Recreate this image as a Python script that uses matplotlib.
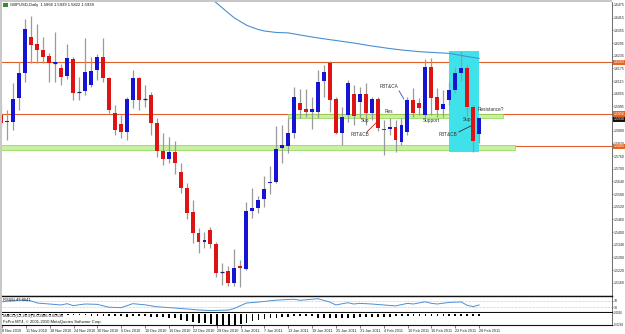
import matplotlib
matplotlib.use('Agg')
import matplotlib.pyplot as plt
from matplotlib.patches import Rectangle
from matplotlib.transforms import blended_transform_factory

plt.rcParams['font.family'] = ['Liberation Sans', 'DejaVu Sans']

W, H = 625, 334

# ---------------- data ----------------
opens = [1.5954, 1.5920, 1.5922, 1.6033, 1.6152, 1.6325, 1.6289, 1.6262, 1.6234, 1.6200,
         1.6175, 1.6139, 1.6218, 1.6064, 1.6069, 1.6096, 1.6167, 1.6227, 1.6128, 1.5964,
         1.5912, 1.5872, 1.6025, 1.6128, 1.6028, 1.6049, 1.5917, 1.5785, 1.5744, 1.5780,
         1.5683, 1.5607, 1.5494, 1.5394, 1.5355, 1.5410, 1.5343, 1.5211, 1.5216, 1.5157,
         1.5241, 1.5224, 1.5500, 1.5512, 1.5555, 1.5631, 1.5635, 1.5796, 1.5809, 1.5870,
         1.6010, 1.5984, 1.5970, 1.5970, 1.6115, 1.6199, 1.6029, 1.5868, 1.5954, 1.6054,
         1.6017, 1.6054, 1.5962, 1.6029, 1.5886, 1.5890, 1.5896, 1.5828, 1.5875, 1.6025,
         1.6012, 1.5954, 1.6180, 1.6041, 1.5981, 1.6025, 1.6073, 1.6152, 1.6175, 1.5993,
         1.5866]
highs = [1.6006, 1.5978, 1.6106, 1.6205, 1.6407, 1.6423, 1.6385, 1.6322, 1.6246, 1.6349,
         1.6196, 1.6290, 1.6230, 1.6133, 1.6320, 1.6230, 1.6243, 1.6320, 1.6136, 1.6002,
         1.5954, 1.6041, 1.6167, 1.6136, 1.6096, 1.6065, 1.5940, 1.5867, 1.5848, 1.5832,
         1.5725, 1.5634, 1.5552, 1.5418, 1.5400, 1.5422, 1.5354, 1.5252, 1.5239, 1.5318,
         1.5268, 1.5544, 1.5607, 1.5571, 1.5665, 1.5713, 1.5903, 1.5907, 1.5940, 1.6085,
         1.6076, 1.6076, 1.6041, 1.6167, 1.6191, 1.6210, 1.6041, 1.5994, 1.6120, 1.6096,
         1.6085, 1.6104, 1.6041, 1.6038, 1.5930, 1.5940, 1.5930, 1.5940, 1.6041, 1.6081,
         1.6034, 1.6218, 1.6223, 1.6081, 1.6073, 1.6112, 1.6183, 1.6257, 1.6191, 1.6002,
         1.5939]
lows = [1.5893, 1.5836, 1.5883, 1.5978, 1.6112, 1.6199, 1.6200, 1.6199, 1.6112, 1.6112,
        1.6096, 1.6125, 1.6025, 1.6025, 1.6049, 1.6085, 1.6120, 1.6112, 1.5964, 1.5860,
        1.5846, 1.5836, 1.5987, 1.5978, 1.5993, 1.5860, 1.5757, 1.5717, 1.5725, 1.5673,
        1.5586, 1.5460, 1.5349, 1.5299, 1.5325, 1.5323, 1.5189, 1.5149, 1.5145, 1.5145,
        1.5141, 1.5220, 1.5465, 1.5492, 1.5520, 1.5580, 1.5634, 1.5728, 1.5776, 1.5844,
        1.5940, 1.5946, 1.5890, 1.5940, 1.6041, 1.5970, 1.5864, 1.5812, 1.5921, 1.5907,
        1.5938, 1.5907, 1.5930, 1.5879, 1.5765, 1.5860, 1.5780, 1.5812, 1.5860, 1.5946,
        1.5954, 1.5946, 1.5954, 1.5946, 1.5946, 1.6002, 1.6057, 1.6115, 1.5949, 1.5780,
        1.5822]
closes = [1.5916, 1.5925, 1.6032, 1.6154, 1.6361, 1.6286, 1.6262, 1.6230, 1.6199, 1.6203,
          1.6135, 1.6223, 1.6060, 1.6065, 1.6159, 1.6164, 1.6227, 1.6128, 1.5978, 1.5883,
          1.5872, 1.6029, 1.6128, 1.6025, 1.6029, 1.5916, 1.5785, 1.5744, 1.5777, 1.5725,
          1.5610, 1.5492, 1.5394, 1.5354, 1.5360, 1.5343, 1.5208, 1.5213, 1.5157, 1.5228,
          1.5228, 1.5501, 1.5515, 1.5552, 1.5604, 1.5638, 1.5792, 1.5812, 1.5870, 1.6041,
          1.5978, 1.5970, 1.5984, 1.6112, 1.6159, 1.6025, 1.5868, 1.5946, 1.6104, 1.5949,
          1.6054, 1.5962, 1.6029, 1.5891, 1.5881, 1.5895, 1.5836, 1.5907, 1.6025, 1.5965,
          1.5989, 1.6183, 1.6036, 1.5978, 1.6006, 1.6073, 1.6154, 1.6175, 1.5993, 1.5832,
          1.5938]

ma_idx = [34, 35, 36, 37, 38, 39, 40, 41, 42, 43, 44, 46, 48, 50, 53, 56, 59, 62, 65, 67,
          70, 73, 75, 78, 80]
ma_val = [1.6527, 1.6508, 1.6485, 1.6461, 1.6437, 1.6414, 1.6397, 1.6380, 1.6369, 1.6359,
          1.6352, 1.6345, 1.6343, 1.6333, 1.6319, 1.6307, 1.6295, 1.6281, 1.6269, 1.6262,
          1.6254, 1.6249, 1.6246, 1.6231, 1.6222]

rsi_idx = [0, 3, 5, 6, 10, 11, 12, 14, 16, 18, 20, 22, 24, 26, 29, 31, 33, 35, 38, 39,
           41, 43, 46, 49, 50, 53, 55, 56, 58, 59, 60, 62, 64, 66, 68, 69, 71, 72, 73, 75,
           77, 78, 79, 80]
rsi_val = [64, 75, 69, 56, 44, 52, 40, 50, 48, 30, 27, 52, 45, 33, 25, 19, 13, 9, 12, 22,
           56, 62, 74, 80, 73, 83, 62, 44, 58, 50, 54, 50, 44, 38, 54, 50, 64, 54, 50, 60,
           63, 42, 34, 44]

macd_hist = [-0.0015, -0.0015, -0.0012, -0.0010, -0.0010, -0.0010, -0.0012, -0.0015, -0.0018, -0.0020,
             -0.0022, -0.0025, -0.0028, -0.0030, -0.0030, -0.0032, -0.0038, -0.0038, -0.0045, -0.0050,
             -0.0050, -0.0055, -0.0050, -0.0050, -0.0050, -0.0055, -0.0062, -0.0075, -0.0088, -0.0100,
             -0.0125, -0.0150, -0.0175, -0.0200, -0.0212, -0.0225, -0.0238, -0.0238, -0.0238, -0.0238,
             -0.0225, -0.0200, -0.0162, -0.0138, -0.0112, -0.0100, -0.0088, -0.0075, -0.0062, -0.0050,
             -0.0042, -0.0042, -0.0050, -0.0088, -0.0100, -0.0100, -0.0100, -0.0100, -0.0088, -0.0088,
             -0.0075, -0.0075, -0.0062, -0.0062, -0.0055, -0.0055, -0.0050, -0.0050, -0.0050, -0.0050,
             -0.0050, -0.0050, -0.0045, -0.0045, -0.0045, -0.0045, -0.0038, -0.0038, -0.0038, -0.0045,
             -0.0050]

level_lines = [1.6203, 1.5958, 1.5805]
level_labels = ['1.6203', '1.5958', '1.5805']
bid_price = 1.5938

price_ticks = [1.6475, 1.6415, 1.6355, 1.6295, 1.6235, 1.6175, 1.6115, 1.6055, 1.5995,
               1.5880, 1.5820, 1.5760, 1.5700, 1.5640, 1.5580, 1.5520, 1.5460, 1.5400,
               1.5340, 1.5280, 1.5220, 1.5160]

date_labels = ['8 Nov 2010', '11 Nov 2010', '18 Nov 2010', '24 Nov 2010', '30 Nov 2010',
               '6 Dec 2010', '10 Dec 2010', '16 Dec 2010', '22 Dec 2010', '28 Dec 2010',
               '3 Jan 2011', '7 Jan 2011', '13 Jan 2011', '19 Jan 2011', '25 Jan 2011',
               '31 Jan 2011', '4 Feb 2011', '10 Feb 2011', '16 Feb 2011', '22 Feb 2011',
               '28 Feb 2011']

# ---------------- figure ----------------
fig = plt.figure(figsize=(W / 100, H / 100), dpi=100)
fig.patch.set_facecolor('white')


def rect(x0, y0, x1, y1):
    return [x0 / W, 1 - y1 / H, (x1 - x0) / W, (y1 - y0) / H]


XLIM = (0.084, 102.26)
ax = fig.add_axes(rect(2, 2, 612, 296))
ax_rsi = fig.add_axes(rect(2, 296, 612, 312))
ax_macd = fig.add_axes(rect(2, 313, 612, 325))

for a in (ax, ax_rsi, ax_macd):
    a.set_xlim(*XLIM)
    a.set_facecolor('white')
    a.spines['left'].set_visible(False)
    a.spines['top'].set_visible(False)
    a.spines['right'].set_color('#555555')
    a.spines['right'].set_linewidth(0.6)
    a.spines['bottom'].set_color('#111111')
    a.spines['bottom'].set_linewidth(0.8)
    a.yaxis.tick_right()
    a.tick_params(axis='y', labelsize=2.5, length=1, width=0.4, pad=0.4, colors='#222222')
ax.tick_params(axis='x', bottom=False, labelbottom=False)
ax_rsi.tick_params(axis='x', bottom=False, labelbottom=False)
ax_rsi.spines['top'].set_visible(True)
ax_rsi.spines['top'].set_color('#111111')
ax_rsi.spines['top'].set_linewidth(1.0)

# main panel
ax.set_ylim(1.50971, 1.64892)
n = len(opens)
idx = list(range(n))

# drawn objects
ax.add_patch(Rectangle((75, 1.5780), 5, 1.6257 - 1.5780, facecolor='#3fe2ea',
                       edgecolor='none', zorder=1.3))
for p in level_lines:
    ax.axhline(p, color='#e0602a', lw=0.8, zorder=1.0)
ax.add_patch(Rectangle((0, 1.5789), 86, 0.0023, facecolor='#c8f0a0',
                       edgecolor='#86d64e', lw=0.5, zorder=1.2))
ax.add_patch(Rectangle((48, 1.5941), 36, 0.0016, facecolor='#c8f0a0',
                       edgecolor='#86d64e', lw=0.5, zorder=1.2))

# candles
ax.vlines(idx, lows, highs, color='#9a9a9a', lw=0.9, zorder=2)
body_bot = [min(o, c) for o, c in zip(opens, closes)]
body_h = [abs(c - o) for o, c in zip(opens, closes)]
cols = ['#1414d2' if c >= o else '#dc1414' for o, c in zip(opens, closes)]
ax.bar(idx, body_h, bottom=body_bot, width=0.66, color=cols, linewidth=0, zorder=3)
for i in idx:
    if body_h[i] < 0.0004:
        ax.hlines((opens[i] + closes[i]) / 2, i - 0.33, i + 0.33, color='#20205a', lw=0.9, zorder=3.1)

# moving average
ax.plot(ma_idx, ma_val, color='#4a8fd4', lw=0.8, zorder=2.5)

# price ticks
ax.set_yticks(price_ticks)
ax.set_yticklabels([f'{v:.4f}' for v in price_ticks])

bt = blended_transform_factory(ax.transAxes, ax.transData)
for p, s in zip(level_lines, level_labels):
    ax.text(1.0025, p, s, transform=bt, fontsize=2.5, color='white', va='center', ha='left',
            bbox=dict(boxstyle='square,pad=0.2', fc='#e8641e', ec='none'), clip_on=False, zorder=6)
ax.text(1.0025, bid_price - 0.0004, f'{bid_price:.4f}', transform=bt, fontsize=2.5, color='white',
        va='center', ha='left', bbox=dict(boxstyle='square,pad=0.2', fc='#111111', ec='none'),
        clip_on=False, zorder=6)

# annotations
tk = dict(fontsize=3.4, color='#303030', va='center', ha='left', zorder=5)
ax.text(63.4, 1.6090, 'PBT&CA', **tk)
ax.plot([66.6, 67.4], [1.6068, 1.6030], color='#2a4fd0', lw=0.6, zorder=5)
ax.text(64.2, 1.5973, 'Res', **tk)
ax.text(60.1, 1.5926, 'Sup', **tk)
ax.text(58.4, 1.5860, 'PBT&CB', **tk)
ax.plot([61.2, 62.9], [1.5874, 1.5921], color='#c02020', lw=0.6, zorder=5)
ax.text(70.6, 1.5930, 'Support', **tk)
ax.text(77.3, 1.5935, 'Sup', **tk)
ax.text(73.3, 1.5864, 'PBT&CB', **tk)
ax.plot([76.6, 78.6], [1.5874, 1.5902], color='#303030', lw=0.6, zorder=5)
ax.text(79.8, 1.5978, 'Resistance?', **tk)

# RSI panel
ax_rsi.set_ylim(0, 100)
ax_rsi.plot(rsi_idx, rsi_val, color='#4a8fd4', lw=0.7)
for lv in (70, 30):
    ax_rsi.axhline(lv, color='#999999', lw=0.4, ls=(0, (1, 1.5)))
ax_rsi.set_yticks([70, 30])
ax_rsi.set_yticklabels(['70', '30'])

# MACD panel
ax_macd.set_ylim(-0.0249, 0.0026)
ax_macd.bar(idx, macd_hist, width=0.3, color='#000000', linewidth=0)
ax_macd.set_yticks([0.0026, -0.0249])
ax_macd.set_yticklabels(['0.0026', '-0.0249'])
ax_macd.tick_params(axis='y', labelsize=2.2)
ax_macd.set_xticks(list(range(0, 81, 4)))
ax_macd.set_xticklabels(date_labels)
ax_macd.tick_params(axis='x', labelsize=2.7, length=2, width=0.4, pad=1, colors='#222222')
for lb in ax_macd.get_xticklabels():
    lb.set_horizontalalignment('left')

# window chrome & texts
fig.add_artist(Rectangle((0, 0), 2 / W, 1, transform=fig.transFigure, fc='#c8c8c8', ec='none'))
fig.add_artist(Rectangle((0, 1 - 2 / H), 612 / W, 2 / H, transform=fig.transFigure, fc='#c8c8c8', ec='none'))
fig.add_artist(Rectangle((3 / W, 1 - 7 / H), 5 / W, 4 / H, transform=fig.transFigure, fc='#3a8a3a', ec='none'))
fig.text(10 / W, 1 - 5 / H, 'GBPUSD,Daily  1.5866 1.5939 1.5822 1.5938', fontsize=3, va='center', color='#111111')
fig.text(3 / W, 1 - 300 / H, 'RSI(8) 43.8641', fontsize=3, va='center', color='#111111')
fig.text(3 / W, 1 - 316 / H, 'MACD(12,26,9) 0.00386 0.00536', fontsize=3, va='center', color='#111111')
fig.text(3 / W, 1 - 322.5 / H, 'FxPro MT4, \u00a9 2001-2010 MetaQuotes Software Corp.', fontsize=3,
         va='center', color='#111111')

fig.savefig('out.png', dpi=100)
